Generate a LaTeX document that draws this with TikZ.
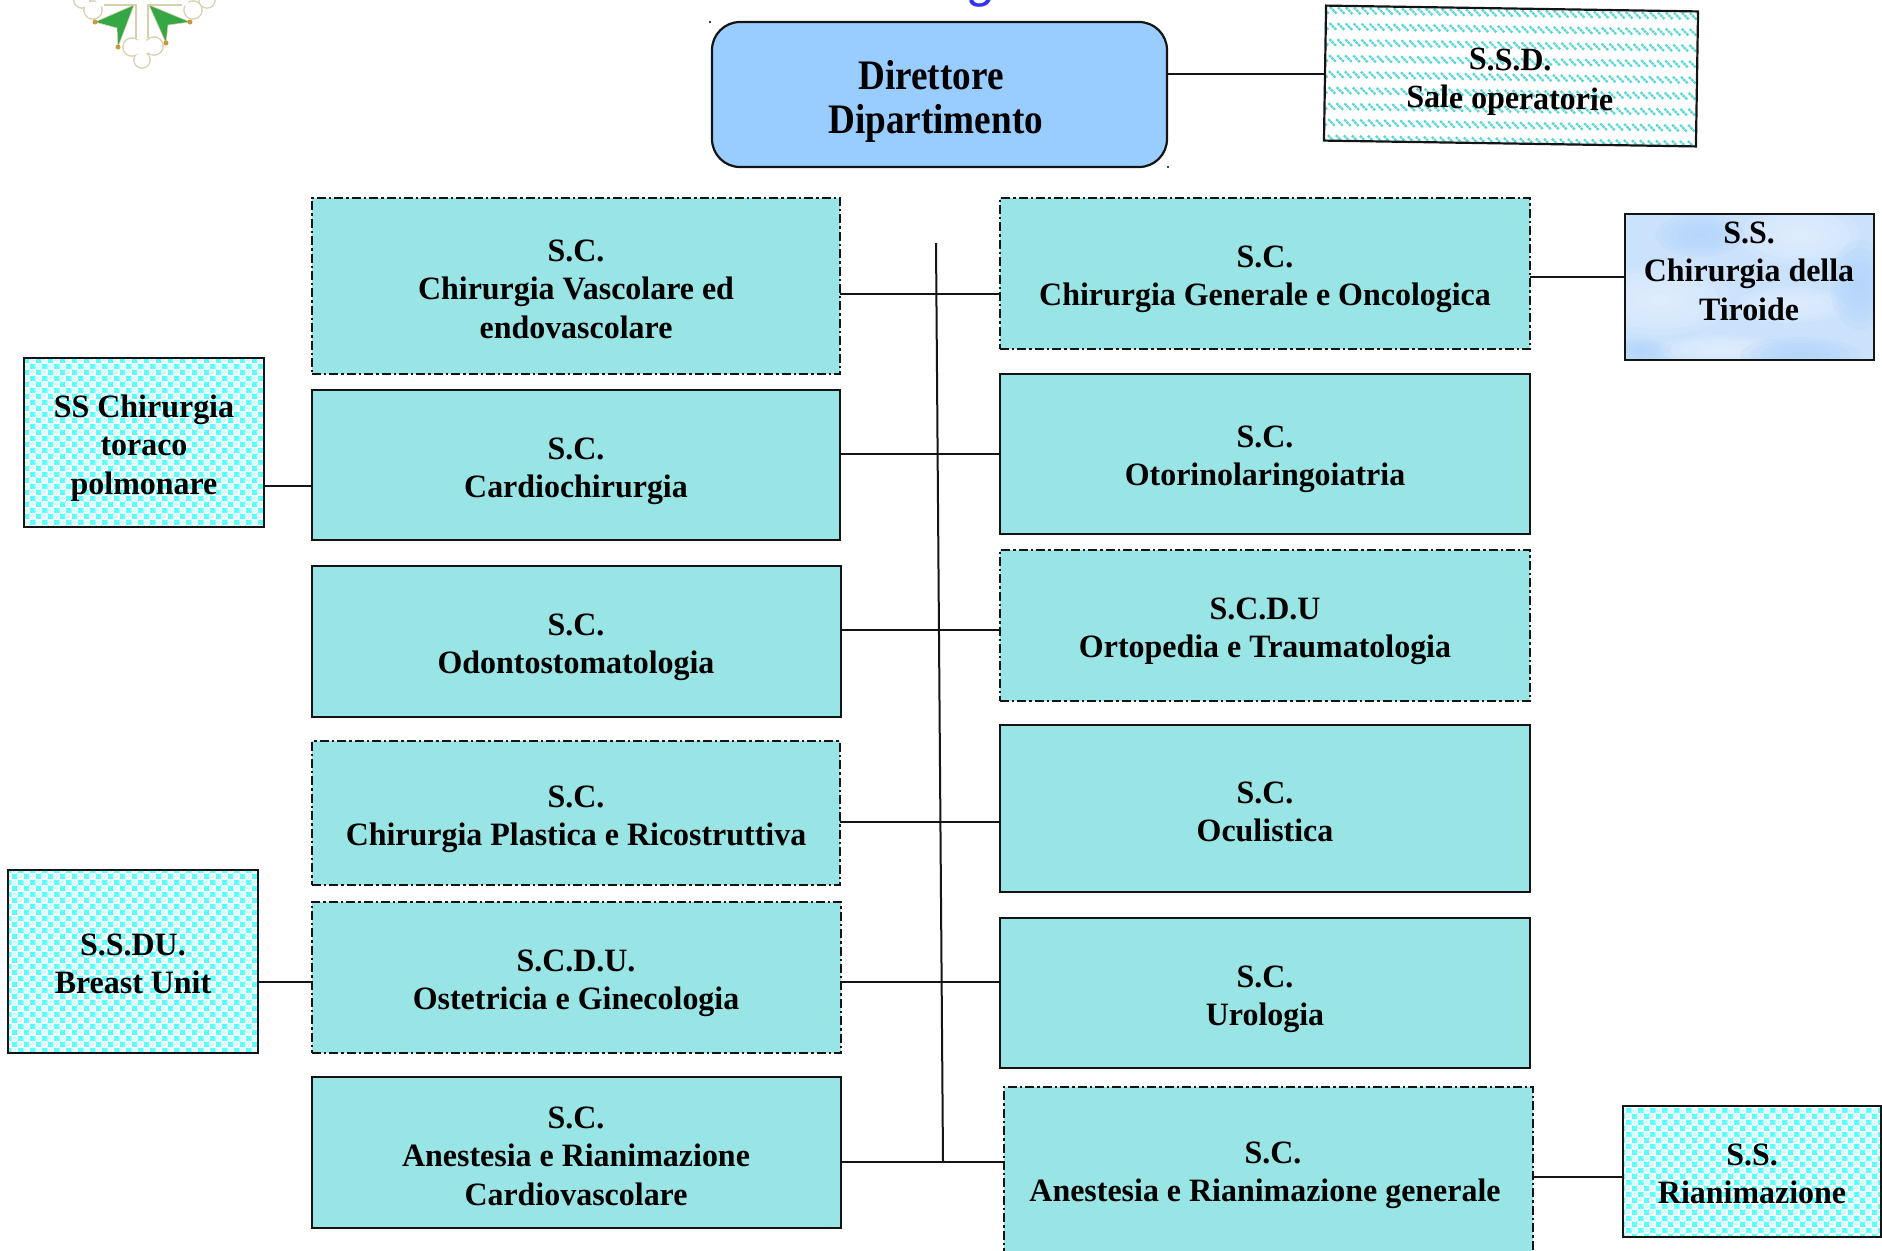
\documentclass[tikz,border=0pt]{standalone}
\usepackage{fontspec}
\setmainfont[FakeStretch=0.98]{Liberation Serif}
\newfontfamily\gfont{Liberation Sans}
\newfontfamily\dirfont[FakeStretch=0.885]{Liberation Serif}
\usetikzlibrary{patterns}
\definecolor{deptfill}{HTML}{99E5E5}
\definecolor{dirfill}{HTML}{99CCFF}
\definecolor{linec}{HTML}{141414}
\definecolor{checkc}{HTML}{5CFFFF}
\definecolor{ringc}{HTML}{B8FFFF}
\definecolor{hatchc}{HTML}{5AD6D6}
\definecolor{tirbase}{HTML}{CBE2FC}
\definecolor{tirdeep}{HTML}{AFD3FB}
\definecolor{tirpale}{HTML}{E6F1FE}
\definecolor{logoline}{HTML}{D9CFAE}
\definecolor{logogreen}{HTML}{35A845}
\definecolor{logogold}{HTML}{C89A3A}
\definecolor{titleblue}{HTML}{3333EE}
\pgfdeclarepatterninherentlycolored{dotcheck}{\pgfqpoint{0pt}{0pt}}{\pgfqpoint{6pt}{6pt}}{\pgfqpoint{6pt}{6pt}}{%
  \pgfsetfillcolor{white}\pgfpathrectangle{\pgfqpoint{0pt}{0pt}}{\pgfqpoint{6pt}{6pt}}\pgfusepath{fill}%
  \pgfsetfillcolor{checkc}%
  \pgfpathrectangle{\pgfqpoint{0pt}{0pt}}{\pgfqpoint{3pt}{3pt}}%
  \pgfpathrectangle{\pgfqpoint{3pt}{3pt}}{\pgfqpoint{3pt}{3pt}}\pgfusepath{fill}%
  \pgfsetfillcolor{white}%
  \pgfpathcircle{\pgfqpoint{4.5pt}{1.5pt}}{1.9pt}%
  \pgfpathcircle{\pgfqpoint{1.5pt}{4.5pt}}{1.9pt}\pgfusepath{fill}%
  \pgfsetstrokecolor{ringc}\pgfsetlinewidth{0.4pt}%
  \pgfpathcircle{\pgfqpoint{4.5pt}{1.5pt}}{0.9pt}%
  \pgfpathcircle{\pgfqpoint{1.5pt}{4.5pt}}{0.9pt}\pgfusepath{stroke}%
}
\tikzset{
  pxbox/.style args={#1,#2,#3,#4}{minimum width={(#3-#1)*0.5pt}, minimum height={(#4-#2)*0.5pt},
    at={({(#1+#3)/2},{(#2+#4)/2})}},
  boxbase/.style={rectangle, draw=linec, line width=1.1pt, inner sep=0pt, outer sep=0pt},
  deptsolid/.style={boxbase, fill=deptfill},
  deptdash/.style={boxbase, fill=deptfill, dash pattern=on 4.5pt off 1.5pt on 1.2pt off 1.5pt},
  dottedbox/.style={boxbase, pattern=dotcheck},
  dirbox/.style={boxbase, fill=dirfill, rounded corners=14pt},
  lbl/.style={align=center, inner sep=0pt, font=\bfseries\fontsize{16.3}{19.25}\selectfont},
  dirlbl/.style={align=center, inner sep=0pt, font=\dirfont\bfseries\fontsize{21}{22}\selectfont},
  conn/.style={draw=linec, line width=1pt},
  logolobe/.style={draw=logoline, fill=white, line width=0.8pt},
}
\begin{document}
\begin{tikzpicture}[x=0.5pt,y=-0.5pt]
\useasboundingbox (0,0) rectangle (1882,1250);
% logo
\foreach \cx/\cy/\r in {132/47/9,154/46/9,142/60/8,93/10/9,82/0/8,193/10/9,207/0/8}
  \draw[logolobe] (\cx,\cy) circle ({\r});
\foreach \cx/\cy/\r in {132/47/8.4,154/46/8.4,142/60/7.4,142/47/8,93/10/8.4,82/0/7.4,193/10/8.4,207/0/7.4,105/-3/10,180/-3/10}
  \fill[white] (\cx,\cy) circle ({\r});
\draw[logoline, line width=0.8pt] (104,5) -- (136,5) -- (136,38);
\draw[logoline, line width=0.8pt] (182,5) -- (148,5) -- (148,38);
\fill[logogreen,draw=logoline,line width=0.3pt] (134,5) -- (95,22) -- (117,28) -- (118,47) -- cycle;
\fill[logogreen,draw=logoline,line width=0.3pt] (149,5) -- (190,22) -- (168,25) -- (166,43) -- cycle;
\foreach \p in {(95,22),(118,47),(190,22),(166,43)} \fill[logogold] \p circle (2.5);
% title fragment
\node[inner sep=0pt, anchor=base, text=titleblue] (titleg) at (984,-4) {\gfont\itshape\fontsize{26}{26}\selectfont g};
% boxes
\node[dirbox, pxbox={712,22,1167,167}] (dir) {};
\fill (710,22) circle (1.2) (1168,167) circle (1.2);
\begin{scope}
 \clip (1326,5) -- (1698,11) -- (1696,146) -- (1324,140) -- cycle;
 \foreach \i in {-1,...,47} \foreach \j in {0,...,8}
  \draw[hatchc, line width=1.15pt, dash pattern=on 1.3pt off 0.35pt] ({1322+8*\i-0.26*\j},{7+16*\j+0.13*\i}) -- ++(6.5,6.5);
\end{scope}
\node[boxbase, rotate=-0.9, minimum width=186pt, minimum height=67.5pt] (ssd) at (1511,76) {};
\node[deptdash, pxbox={312,198,840,374}] (a) {};
\node[deptsolid, pxbox={312,390,840,540}] (b) {};
\node[deptsolid, pxbox={312,566,841,717}] (c) {};
\node[deptdash, pxbox={312,741,840,885}] (d) {};
\node[deptdash, pxbox={312,902,841,1053}] (e) {};
\node[deptsolid, pxbox={312,1077,841,1228}] (f) {};
\node[deptdash, pxbox={1000,198,1530,349}] (g) {};
\node[deptsolid, pxbox={1000,374,1530,534}] (h) {};
\node[deptdash, pxbox={1000,550,1530,701}] (i) {};
\node[deptsolid, pxbox={1000,725,1530,892}] (j) {};
\node[deptsolid, pxbox={1000,918,1530,1068}] (k) {};
\node[deptdash, pxbox={1004,1087,1533,1260}] (l) {};
\node[dottedbox, pxbox={24,358,264,527}] (ss) {};
\node[dottedbox, pxbox={8,870,258,1053}] (bu) {};
\node[dottedbox, pxbox={1623,1106,1881,1237}] (ri) {};
\begin{scope}
 \clip (1625,214) rectangle (1874,360);
 \fill[tirbase] (1625,214) rectangle (1874,360);
 \foreach \cx/\cy/\rx/\ry/\c in {1800/235/60/30/tirpale,1660/300/70/35/tirpale,1790/305/55/18/tirpale,1720/350/60/15/tirpale,
   1860/285/30/45/tirdeep,1800/355/60/18/tirdeep,1640/352/30/14/tirdeep,1700/235/45/22/tirdeep}
  \foreach \k in {1,...,6} \fill[\c, opacity=.2] (\cx,\cy) ellipse ({\rx*\k/6} and {\ry*\k/6});
\end{scope}
\node[boxbase, pxbox={1625,214,1874,360}] (ti) {};
% labels
\node[dirlbl] (dirt) at (931,103) {\strut Direttore\\\strut \ Dipartimento};
\node[lbl, rotate=-0.9] (ssdt) at (1510,82) {\strut S.S.D.\\\strut Sale operatorie};
\node[lbl] (at) at (576,292) {\strut S.C.\\\strut Chirurgia Vascolare ed\\\strut endovascolare};
\node[lbl] (bt) at (576,471) {\strut S.C.\\\strut Cardiochirurgia};
\node[lbl] (ct) at (576,647) {\strut S.C.\\\strut Odontostomatologia};
\node[lbl] (dt) at (576,819) {\strut S.C.\\\strut Chirurgia Plastica e Ricostruttiva};
\node[lbl] (et) at (576,983) {\strut S.C.D.U.\\\strut Ostetricia e Ginecologia};
\node[lbl] (ft) at (576,1159) {\strut S.C.\\\strut Anestesia e Rianimazione\\\strut Cardiovascolare};
\node[lbl] (gt) at (1265,279) {\strut S.C.\\\strut Chirurgia Generale e Oncologica};
\node[lbl] (ht) at (1265,459) {\strut S.C.\\\strut Otorinolaringoiatria};
\node[lbl] (it) at (1265,631) {\strut S.C.D.U\\\strut Ortopedia e Traumatologia};
\node[lbl] (jt) at (1265,815) {\strut S.C.\\\strut Oculistica};
\node[lbl] (kt) at (1265,999) {\strut S.C.\\\strut Urologia};
\node[lbl] (lt) at (1265,1175) {\strut \ \ S.C.\\\strut Anestesia e Rianimazione generale};
\node[lbl] (sst) at (144,448) {\strut SS Chirurgia\\\strut toraco\\\strut polmonare};
\node[lbl] (but) at (133,967) {\strut S.S.DU.\\\strut Breast Unit};
\node[lbl] (rit) at (1752,1177) {\strut S.S.\\\strut Rianimazione};
\node[lbl] (tit) at (1749,274) {\strut S.S.\\\strut Chirurgia della\\\strut Tiroide};
% connectors
\coordinate (vt) at (936,243);
\coordinate (vb) at (943,1162);
\coordinate (h0) at (0,74);
\coordinate (h1) at (0,294);
\coordinate (h2) at (0,454);
\coordinate (h3) at (0,630);
\coordinate (h4) at (0,822);
\coordinate (h5) at (0,982);
\coordinate (h6) at (0,1162);
\coordinate (h7) at (0,486);
\coordinate (h8) at (0,277);
\coordinate (h9) at (0,1177);
\draw[conn] (vt) -- (vb);
\draw[conn] (dir.east |- h0) -- (ssd.west |- h0);
\draw[conn] (a.east |- h1) -- (g.west |- h1);
\draw[conn] (b.east |- h2) -- (h.west |- h2);
\draw[conn] (c.east |- h3) -- (i.west |- h3);
\draw[conn] (d.east |- h4) -- (j.west |- h4);
\draw[conn] (e.east |- h5) -- (k.west |- h5);
\draw[conn] (f.east |- h6) -- (l.west |- h6);
\draw[conn] (ss.east |- h7) -- (b.west |- h7);
\draw[conn] (bu.east |- h5) -- (e.west |- h5);
\draw[conn] (g.east |- h8) -- (ti.west |- h8);
\draw[conn] (l.east |- h9) -- (ri.west |- h9);
\end{tikzpicture}
\end{document}
